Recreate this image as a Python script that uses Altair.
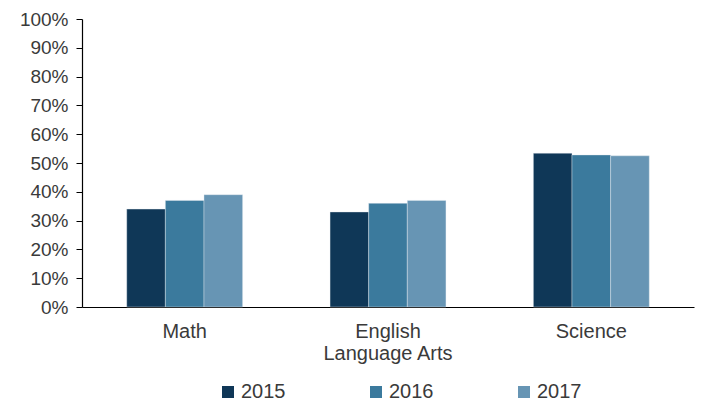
import altair as alt
import pandas as pd

subjects = ["Math", "English Language Arts", "Science"]
years = ["2015", "2016", "2017"]
v2015 = [34.0, 33.0, 53.4]
v2016 = [37.0, 36.0, 52.8]
v2017 = [39.0, 37.0, 52.5]
colors = ["#0f3757", "#3b7a9d", "#6795b4"]

rows = []
for i, s in enumerate(subjects):
    for y, vals in zip(years, [v2015, v2016, v2017]):
        rows.append({"subject": s, "year": y, "value": vals[i] / 100})
df = pd.DataFrame(rows)

font = "Liberation Sans"
txt = "#3a3a3a"
chart = alt.Chart(df).mark_bar(stroke="#e8eef3", strokeWidth=0.4).encode(
    x=alt.X("subject:N", sort=subjects, title=None,
            scale=alt.Scale(paddingInner=0.43, paddingOuter=0.22),
            axis=alt.Axis(labelAngle=0, ticks=False, domainColor="#000000", domainWidth=1.2,
                          labelFont=font, labelFontSize=20, labelColor=txt,
                          labelPadding=14, labelLineHeight=22,
                          labelExpr="datum.label == 'English Language Arts' ? ['English', 'Language Arts'] : datum.label")),
    xOffset=alt.XOffset("year:N", sort=years),
    y=alt.Y("value:Q", title=None,
            scale=alt.Scale(domain=[0, 1]),
            axis=alt.Axis(format=".0%", values=[i / 10 for i in range(11)], grid=False,
                          domainColor="#000000", domainWidth=1.2, tickColor="#000000",
                          tickSize=6, labelFont=font, labelFontSize=19,
                          labelColor=txt, labelPadding=8)),
    color=alt.Color("year:N", sort=years, scale=alt.Scale(domain=years, range=colors),
                    legend=alt.Legend(title=None, orient="none", direction="horizontal",
                                      legendX=136, legendY=363, padding=0,
                                      symbolType="square", symbolSize=144, symbolStrokeWidth=0,
                                      labelFont=font, labelFontSize=20,
                                      labelColor=txt, columnPadding=80, labelOffset=3)),
).properties(
    width=612, height=288,
    padding={"left": 74, "top": 11, "right": 2, "bottom": 98},
    autosize=alt.AutoSizeParams(type="none"),
).configure_view(stroke=None)

chart.save("out.html", embed_options={"renderer": "svg", "actions": False})
